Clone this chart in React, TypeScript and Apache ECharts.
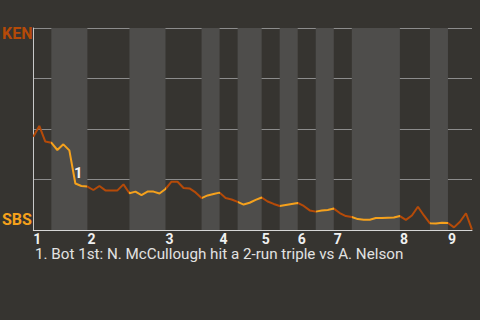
import React, { useEffect, useRef } from "react";
import * as echarts from "echarts";

// Half-inning lengths (number of plays), top/bottom alternating, T1..T9
const halfInningPlays = [3, 6, 7, 6, 6, 3, 3, 4, 3, 3, 3, 3, 3, 8, 5, 3, 4];
const inningLabels = ["1", "2", "3", "4", "5", "6", "7", "8", "9"];
// Win probability toward KEN (0 = SBS wins, 100 = KEN wins), one per play
const winProb = [
  46.2, 51.5, 43.8, 43.2, 39.6, 42.4, 39.4, 23.0, 21.8, 21.5,
  19.8, 21.8, 19.6, 19.6, 19.6, 22.6, 18.2, 19.0, 17.3, 19.0,
  19.0, 18.1, 20.3, 23.9, 23.9, 20.8, 20.6, 18.6, 15.8, 17.1,
  17.8, 18.5, 15.8, 15.1, 13.9, 12.6, 13.5, 14.9, 16.1, 14.1,
  12.9, 11.9, 12.4, 12.9, 13.4, 11.9, 9.7, 9.1, 9.6, 9.9,
  10.6, 8.4, 6.9, 6.4, 5.4, 5.1, 5.1, 5.9, 5.9, 6.1,
  6.2, 6.9, 5.0, 7.2, 11.5, 7.2, 3.3, 3.2, 3.6, 3.5,
  1.3, 4.1, 8.3, 0.2,
];
const annotationIndex = 7;
const annotationLabel = "1";
const footnote = "1. Bot 1st: N. McCullough hit a 2-run triple vs A. Nelson";
const topTeam = "KEN";
const bottomTeam = "SBS";

const BG = "#363430";
const BAND = "#4e4d4b";
const TOP_COLOR = "#b54a08";
const BOT_COLOR = "#f5a11c";

export default function App() {
  const ref = useRef<HTMLDivElement>(null);
  useEffect(() => {
    if (!ref.current) return;
    const chart = echarts.init(ref.current, undefined, { renderer: "svg" });

    const starts: number[] = [];
    let acc = 0;
    halfInningPlays.forEach((n) => {
      starts.push(acc);
      acc += n;
    });
    const total = acc;
    const labelAt: Record<number, string> = {};
    starts.forEach((s, i) => {
      if (i % 2 === 0) labelAt[s] = inningLabels[i / 2];
    });
    const pieces = starts.map((s, i) => ({
      gte: s,
      lt: s + halfInningPlays[i],
      color: i % 2 === 0 ? TOP_COLOR : BOT_COLOR,
    }));
    pieces[pieces.length - 1] = { ...pieces[pieces.length - 1], lt: total + 1 } as any;
    const bands = starts
      .map((s, i) => ({ s, i }))
      .filter((o) => o.i % 2 === 1)
      .map((o) => [{ xAxis: o.s }, { xAxis: o.s + halfInningPlays[o.i] }]);

    const data = winProb.map((v, i) => [i, v]);

    chart.setOption({
      animation: false,
      backgroundColor: BG,
      grid: { left: 33.3, right: 8, top: 28, bottom: 90 },
      xAxis: {
        type: "value",
        min: 0,
        max: total,
        interval: 1,
        axisLine: { show: true, lineStyle: { color: "#d6d6d6", width: 1 } },
        axisTick: { show: false },
        splitLine: { show: false },
        axisLabel: {
          formatter: (v: number) => labelAt[v] || "",
          align: "left",
          margin: 3,
          lineHeight: 11,
          color: "#f0f0f0",
          fontFamily: "Roboto",
          fontWeight: "bold",
          fontSize: 14,
          showMinLabel: true,
          showMaxLabel: true,
        },
      },
      yAxis: {
        type: "value",
        min: 0,
        max: 100,
        interval: 25,
        axisLine: { show: true, lineStyle: { color: "#c8c8c8", width: 1 } },
        axisTick: { show: false },
        axisLabel: { show: false },
        splitLine: { show: true, lineStyle: { color: "#8c8c8c", width: 1 } },
      },
      visualMap: {
        show: false,
        type: "piecewise",
        dimension: 0,
        seriesIndex: 0,
        pieces,
      },
      series: [
        {
          type: "line",
          data,
          showSymbol: false,
          symbol: "none",
          lineStyle: { width: 2 },
          z: 3,
          markArea: {
            silent: true,
            itemStyle: { color: BAND, opacity: 1 },
            data: bands,
            z: 1,
          },
          markPoint: {
            symbol: "circle",
            symbolSize: 0,
            silent: true,
            data: [
              {
                coord: [annotationIndex, winProb[annotationIndex]],
                value: annotationLabel,
              },
            ],
            label: {
              show: true,
              position: "inside",
              offset: [3, -11],
              formatter: annotationLabel,
              color: "#f4f4f4",
              fontFamily: "Roboto",
              fontWeight: "bold",
              fontSize: 15,
            },
          },
        },
      ],
      graphic: [
        {
          type: "text",
          left: 2,
          top: 25,
          style: {
            text: topTeam,
            fill: TOP_COLOR,
            font: "bold 16px Roboto",
          },
        },
        {
          type: "text",
          left: 2,
          top: 211,
          style: {
            text: bottomTeam,
            fill: BOT_COLOR,
            font: "bold 16px Roboto",
          },
        },
        {
          type: "text",
          left: 35,
          top: 246.5,
          style: {
            text: footnote,
            fill: "#e2e2e2",
            font: "15.2px Roboto",
          },
        },
      ],
    });
    return () => chart.dispose();
  }, []);
  return <div ref={ref} style={{ width: 480, height: 320, position: "absolute", left: 0, top: 0 }} />;
}
